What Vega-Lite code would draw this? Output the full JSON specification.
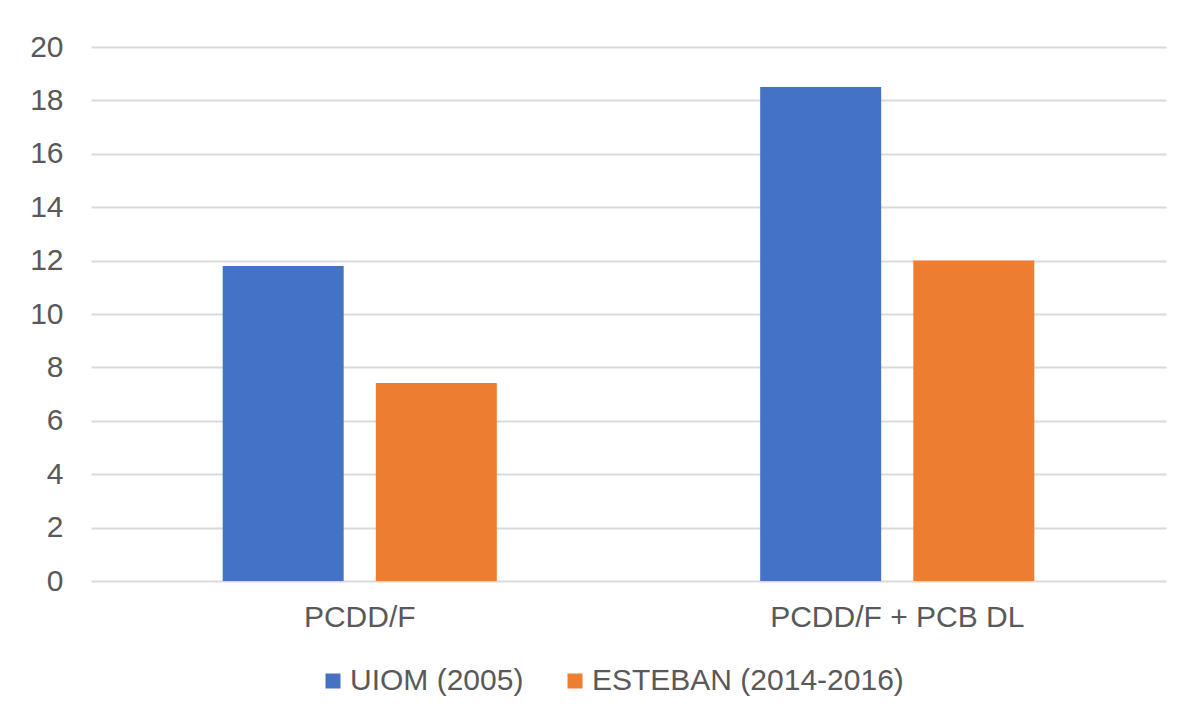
{
  "$schema": "https://vega.github.io/schema/vega-lite/v6.json",
  "autosize": {"type": "none"},
  "padding": {"left": 91, "top": 47, "right": 20, "bottom": 142},
  "width": 1075,
  "height": 534,
  "background": "white",
  "data": {
    "values": [
      {"category": "PCDD/F", "series": "UIOM (2005)", "value": 11.8},
      {"category": "PCDD/F", "series": "ESTEBAN (2014-2016)", "value": 7.42},
      {"category": "PCDD/F + PCB DL", "series": "UIOM (2005)", "value": 18.5},
      {"category": "PCDD/F + PCB DL", "series": "ESTEBAN (2014-2016)", "value": 12.0}
    ]
  },
  "mark": {"type": "bar"},
  "encoding": {
    "x": {
      "field": "category",
      "type": "nominal",
      "sort": ["PCDD/F", "PCDD/F + PCB DL"],
      "scale": {"paddingInner": 0.49, "paddingOuter": 0.245},
      "axis": {"title": null, "labelAngle": 0, "domain": false, "ticks": false, "labelPadding": 21, "grid": false, "labelLimit": 600}
    },
    "xOffset": {
      "field": "series",
      "type": "nominal",
      "sort": ["UIOM (2005)", "ESTEBAN (2014-2016)"],
      "scale": {"paddingInner": 0.21, "paddingOuter": 0}
    },
    "y": {
      "field": "value",
      "type": "quantitative",
      "scale": {"domain": [0, 20], "nice": false},
      "axis": {"title": null, "values": [0, 2, 4, 6, 8, 10, 12, 14, 16, 18, 20], "domain": false, "ticks": false, "labelPadding": 28, "grid": true}
    },
    "color": {
      "field": "series",
      "type": "nominal",
      "sort": ["UIOM (2005)", "ESTEBAN (2014-2016)"],
      "scale": {"domain": ["UIOM (2005)", "ESTEBAN (2014-2016)"], "range": ["#4472C4", "#ED7D31"]},
      "legend": {"title": null, "orient": "none", "legendX": 227, "legendY": 619, "direction": "horizontal", "symbolType": "square", "symbolSize": 225, "symbolStrokeWidth": 0, "labelOffset": 2, "columnPadding": 36}
    }
  },
  "config": {
    "view": {"stroke": null},
    "font": "Liberation Sans",
    "axis": {"labelFont": "Liberation Sans", "labelFontSize": 30, "labelColor": "#595959", "gridColor": "#d9d9d9", "gridWidth": 2, "gridOpacity": 1},
    "legend": {"labelFont": "Liberation Sans", "labelFontSize": 30, "labelColor": "#595959", "symbolOpacity": 1, "labelLimit": 500}
  }
}
